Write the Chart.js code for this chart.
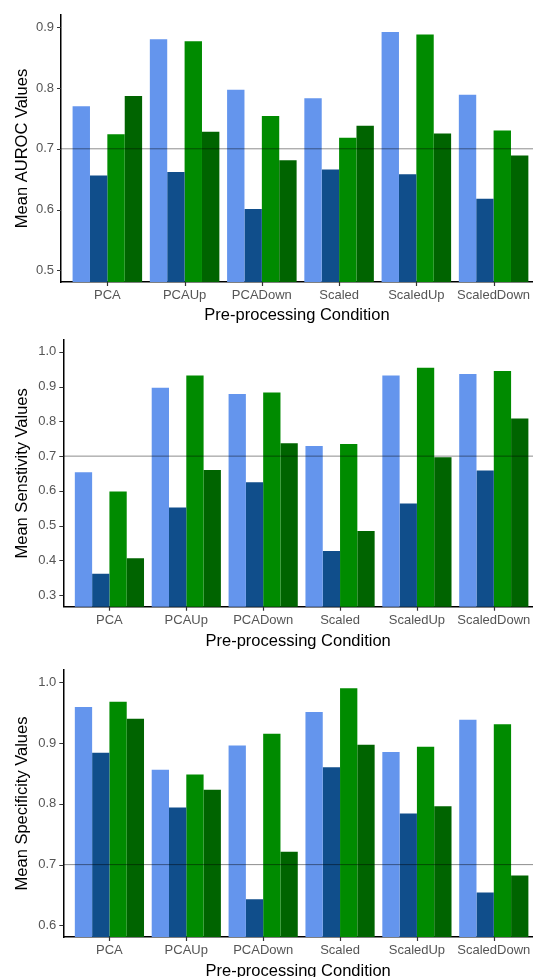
<!DOCTYPE html>
<html>
<head>
<meta charset="utf-8">
<script src="https://cdn.jsdelivr.net/npm/chart.js@4"></script>
<style>
  html, body { margin: 0; padding: 0; background: #fff; overflow: hidden; }
  body { width: 533px; height: 977px; position: relative; }
  canvas { position: absolute; left: 0; }
</style>
</head>
<body>
<canvas id="auroc" width="533" height="325" style="top:0px"></canvas>
<canvas id="sens" width="533" height="326" style="top:325px"></canvas>
<canvas id="spec" width="533" height="330" style="top:651px"></canvas>
<script>
/* ===== Pre-processing condition bar charts ===== */
var conditions = ["PCA", "PCAUp", "PCADown", "Scaled", "ScaledUp", "ScaledDown"];
var seriesColors = ["#6495ED", "#104E8B", "#008B00", "#006400"];
var refValue = 0.7;

// AUROC
var aurocA = [0.770, 0.880, 0.797, 0.783, 0.892, 0.789];
var aurocB = [0.656, 0.662, 0.601, 0.666, 0.658, 0.618];
var aurocC = [0.724, 0.877, 0.754, 0.718, 0.888, 0.730];
var aurocD = [0.787, 0.728, 0.681, 0.738, 0.725, 0.689];
var aurocTicks = [0.5, 0.6, 0.7, 0.8, 0.9];

// Sensitivity
var sensA = [0.654, 0.897, 0.879, 0.729, 0.932, 0.936];
var sensB = [0.362, 0.552, 0.625, 0.427, 0.564, 0.659];
var sensC = [0.598, 0.932, 0.883, 0.735, 0.954, 0.945];
var sensD = [0.406, 0.660, 0.737, 0.485, 0.697, 0.808];
var sensTicks = [0.3, 0.4, 0.5, 0.6, 0.7, 0.8, 0.9, 1.0];

// Specificity
var specA = [0.959, 0.856, 0.896, 0.951, 0.885, 0.938];
var specB = [0.884, 0.794, 0.643, 0.860, 0.784, 0.654];
var specC = [0.968, 0.848, 0.915, 0.990, 0.894, 0.931];
var specD = [0.940, 0.823, 0.721, 0.897, 0.796, 0.682];
var specTicks = [0.6, 0.7, 0.8, 0.9, 1.0];

var FONT = "'Liberation Sans', Arial, sans-serif";
var TICK_LEN = 4;

/* --- 0.7 reference line over the bars, plus ggplot-style tick marks --- */
var refLinePlugin = {
    id: "refLine",
    afterDatasetsDraw: function (chart) {
        var y = chart.scales.y.getPixelForValue(refValue);
        var area = chart.chartArea;
        var ctx = chart.ctx;
        ctx.save();
        ctx.strokeStyle = "rgba(0,0,0,0.45)";
        ctx.lineWidth = 1;
        ctx.beginPath();
        ctx.moveTo(area.left, y);
        ctx.lineTo(area.right, y);
        ctx.stroke();
        ctx.restore();
    },
    afterDraw: function (chart) {
        var ctx = chart.ctx;
        var area = chart.chartArea;
        var xs = chart.scales.x, ys = chart.scales.y;
        ctx.save();
        ctx.strokeStyle = "#333";
        ctx.lineWidth = 1.2;
        ctx.beginPath();
        for (var i = 0; i < xs.ticks.length; i++) {
            var px = Math.round(xs.getPixelForValue(xs.ticks[i].value)) + 0.5;
            ctx.moveTo(px, area.bottom);
            ctx.lineTo(px, area.bottom + TICK_LEN);
        }
        for (var j = 0; j < ys.ticks.length; j++) {
            var py = Math.round(ys.getPixelForValue(ys.ticks[j].value)) + 0.5;
            ctx.moveTo(area.left - TICK_LEN, py);
            ctx.lineTo(area.left, py);
        }
        ctx.stroke();
        ctx.restore();
    }
};

function makePanel(id, series, yTicks, yMin, yMax, yTitle, opts) {
    var datasets = series.map(function (vals, s) {
        return {
            data: vals.map(function (v, i) { return { x: i + 1, y: v }; }),
            backgroundColor: seriesColors[s],
            borderWidth: 0,
            categoryPercentage: 0.9,
            barPercentage: 1.0
        };
    });

    return new Chart(document.getElementById(id), {
        type: "bar",
        data: { datasets: datasets },
        plugins: [refLinePlugin],
        options: {
            responsive: false,
            animation: false,
            layout: { padding: { top: opts.top, left: 0, right: 0, bottom: 0 } },
            plugins: { legend: { display: false }, tooltip: { enabled: false } },
            scales: {
                x: {
                    type: "linear",
                    min: 0.4,
                    max: 6.51,
                    offset: false,
                    afterBuildTicks: function (scale) {
                        scale.ticks = conditions.map(function (c, i) { return { value: i + 1 }; });
                    },
                    afterFit: function (scale) { scale.height = opts.xHeight; },
                    ticks: {
                        autoSkip: false,
                        maxRotation: 0,
                        padding: 2,
                        color: "#555",
                        font: { family: FONT, size: 13 },
                        callback: function (v) { return conditions[v - 1] || ""; }
                    },
                    // tick space is kept, marks are drawn by the plugin
                    grid: { display: false, drawTicks: true, tickLength: TICK_LEN },
                    border: { display: true, color: "#000", width: 1.5 },
                    title: {
                        display: true,
                        text: "Pre-processing Condition",
                        color: "#000",
                        font: { family: FONT, size: 16.5 },
                        padding: { top: 0, bottom: 0 }
                    }
                },
                y: {
                    min: yMin,
                    max: yMax,
                    afterBuildTicks: function (scale) {
                        scale.ticks = yTicks.map(function (v) { return { value: v }; });
                    },
                    afterFit: function (scale) { scale.width = opts.axisX; },
                    ticks: {
                        padding: 3,
                        color: "#555",
                        font: { family: FONT, size: 13 },
                        callback: function (v) { return v.toFixed(1); }
                    },
                    grid: { display: false, drawTicks: true, tickLength: TICK_LEN },
                    border: { display: true, color: "#000", width: 1.5 },
                    title: {
                        display: true,
                        text: yTitle,
                        color: "#000",
                        font: { family: FONT, size: 16.5 },
                        padding: { top: 13, bottom: 0 }
                    }
                }
            }
        }
    });
}

makePanel("auroc", [aurocA, aurocB, aurocC, aurocD], aurocTicks, 0.481, 0.92,
    "Mean AUROC Values", { top: 15, xHeight: 43, axisX: 61 });
makePanel("sens", [sensA, sensB, sensC, sensD], sensTicks, 0.267, 1.034,
    "Mean Senstivity Values", { top: 15, xHeight: 44.3, axisX: 63.3 });
makePanel("spec", [specA, specB, specC, specD], specTicks, 0.581, 1.02,
    "Mean Specificity Values", { top: 19, xHeight: 44, axisX: 63.3 });
</script>
</body>
</html>
